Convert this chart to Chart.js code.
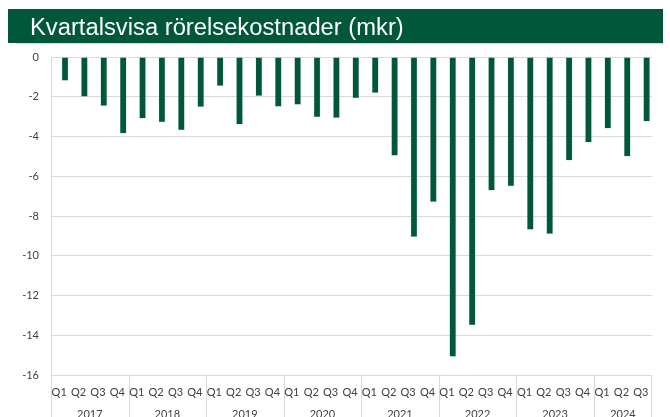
<!DOCTYPE html>
<html>
<head>
<meta charset="utf-8">
<script src="https://cdn.jsdelivr.net/npm/chart.js@4"></script>
<style>
  html, body { margin: 0; padding: 0; background: #fff; }
  #wrap { width: 670px; height: 417px; position: relative; }
</style>
</head>
<body>
<div id="wrap"><canvas id="myChart" width="670" height="417"></canvas></div>
<script>
// Data
var years = ['2017', '2018', '2019', '2020', '2021', '2022', '2023', '2024'];
var quarters = ['Q1', 'Q2', 'Q3', 'Q4'];
var quarterLabels = [
    'Q1', 'Q2', 'Q3', 'Q4', 'Q1', 'Q2', 'Q3', 'Q4', 'Q1', 'Q2', 'Q3', 'Q4',
    'Q1', 'Q2', 'Q3', 'Q4', 'Q1', 'Q2', 'Q3', 'Q4', 'Q1', 'Q2', 'Q3', 'Q4',
    'Q1', 'Q2', 'Q3', 'Q4', 'Q1', 'Q2', 'Q3'
];
var yearOfQuarter = [
    '2017', '2017', '2017', '2017', '2018', '2018', '2018', '2018',
    '2019', '2019', '2019', '2019', '2020', '2020', '2020', '2020',
    '2021', '2021', '2021', '2021', '2022', '2022', '2022', '2022',
    '2023', '2023', '2023', '2023', '2024', '2024', '2024'
];
var costs = [
    -1.2, -2.0, -2.46, -3.85,
    -3.1, -3.28, -3.68, -2.51,
    -1.46, -3.4, -1.96, -2.5,
    -2.4, -3.03, -3.07, -2.08,
    -1.81, -4.97, -9.06, -7.3,
    -15.08, -13.5, -6.72, -6.5,
    -8.69, -8.91, -5.21, -4.3,
    -3.6, -5.01, -3.25
];
var yTicks = [0, -2, -4, -6, -8, -10, -12, -14, -16];

var GREEN = '#00573a';
var GRID = '#d9d9d9';
var TEXT = '#404040';
var FONT = 'Lato, "Open Sans", sans-serif';

// Title banner, multi-level category axis and axis extensions
var decor = {
    id: 'decor',
    beforeDraw: function (chart) {
        var ctx = chart.ctx;
        ctx.save();
        ctx.fillStyle = '#fff';
        ctx.fillRect(0, 0, chart.width, chart.height);
        ctx.fillStyle = GREEN;
        ctx.fillRect(8, 9, 655, 34);
        ctx.fillStyle = '#d5ddd9';
        ctx.fillRect(16, 43, 647, 1);
        // title, fitted to its width in the picture
        var title = 'Kvartalsvisa rörelsekostnader (mkr)';
        var size = 24;
        ctx.font = size + 'px "Liberation Sans", Arial, sans-serif';
        var w = ctx.measureText(title).width;
        size = size * 374 / w;
        ctx.font = size + 'px "Liberation Sans", Arial, sans-serif';
        ctx.fillStyle = '#fff';
        ctx.textBaseline = 'alphabetic';
        ctx.fillText(title, 30, 35);
        ctx.restore();
    },
    afterDraw: function (chart) {
        var ctx = chart.ctx;
        var area = chart.chartArea;
        var x = chart.scales.x;
        var n = quarterLabels.length;
        var cw = (area.right - area.left) / n;
        ctx.save();
        ctx.strokeStyle = GRID;
        ctx.lineWidth = 1;
        // left axis line down to the bottom edge
        ctx.beginPath();
        ctx.moveTo(Math.round(area.left) + 0.5, area.top);
        ctx.lineTo(Math.round(area.left) + 0.5, chart.height);
        ctx.stroke();
        // year dividers
        var start = 0;
        ctx.font = '11px ' + FONT;
        ctx.fillStyle = TEXT;
        ctx.textAlign = 'center';
        ctx.textBaseline = 'middle';
        for (var i = 0; i < years.length; i++) {
            var count = yearOfQuarter.filter(function (y) { return y === years[i]; }).length;
            var end = start + count;
            var xe = Math.round(area.left + end * cw) + 0.5;
            if (xe > area.right) xe = Math.round(area.right) - 0.5;
            ctx.beginPath();
            ctx.moveTo(xe, area.bottom);
            ctx.lineTo(xe, chart.height);
            ctx.stroke();
            ctx.fillText(years[i], area.left + (start + end) / 2 * cw, 414);
            start = end;
        }
        // quarter labels
        for (var j = 0; j < n; j++) {
            ctx.fillText(quarterLabels[j], area.left + (j + 0.5) * cw - 1.5, 392);
        }
        ctx.restore();
    }
};

new Chart(document.getElementById('myChart').getContext('2d'), {
    type: 'bar',
    data: {
        labels: quarterLabels,
        datasets: [{
            // empty spacer so the bars sit right of the category centre, as in the picture
            label: '',
            data: [],
            backgroundColor: 'rgba(0,0,0,0)'
        }, {
            label: 'Rörelsekostnader',
            data: costs,
            backgroundColor: GREEN,
            borderColor: 'rgba(120,170,150,0.6)',
            borderWidth: 0.5,
            categoryPercentage: 0.89,
            barPercentage: 0.78
        }]
    },
    options: {
        responsive: false,
        animation: false,
        events: [],
        layout: { padding: { top: 57, left: 0, right: 18, bottom: 0 } },
        datasets: { bar: { categoryPercentage: 0.89, barPercentage: 0.78 } },
        plugins: {
            legend: { display: false },
            tooltip: { enabled: false },
            title: { display: false }
        },
        scales: {
            x: {
                grid: { display: false },
                border: { display: false },
                ticks: { display: false },
                afterFit: function (s) { s.height = 42; }
            },
            y: {
                min: -16,
                max: 0,
                afterBuildTicks: function (s) {
                    s.ticks = yTicks.map(function (v) { return { value: v }; });
                },
                grid: { color: GRID, lineWidth: 1, drawTicks: false },
                border: { display: false },
                ticks: {
                    font: { family: FONT, size: 11 },
                    color: TEXT,
                    padding: 12
                },
                afterFit: function (s) { s.width = 51; }
            }
        }
    },
    plugins: [decor]
});
</script>
</body>
</html>
